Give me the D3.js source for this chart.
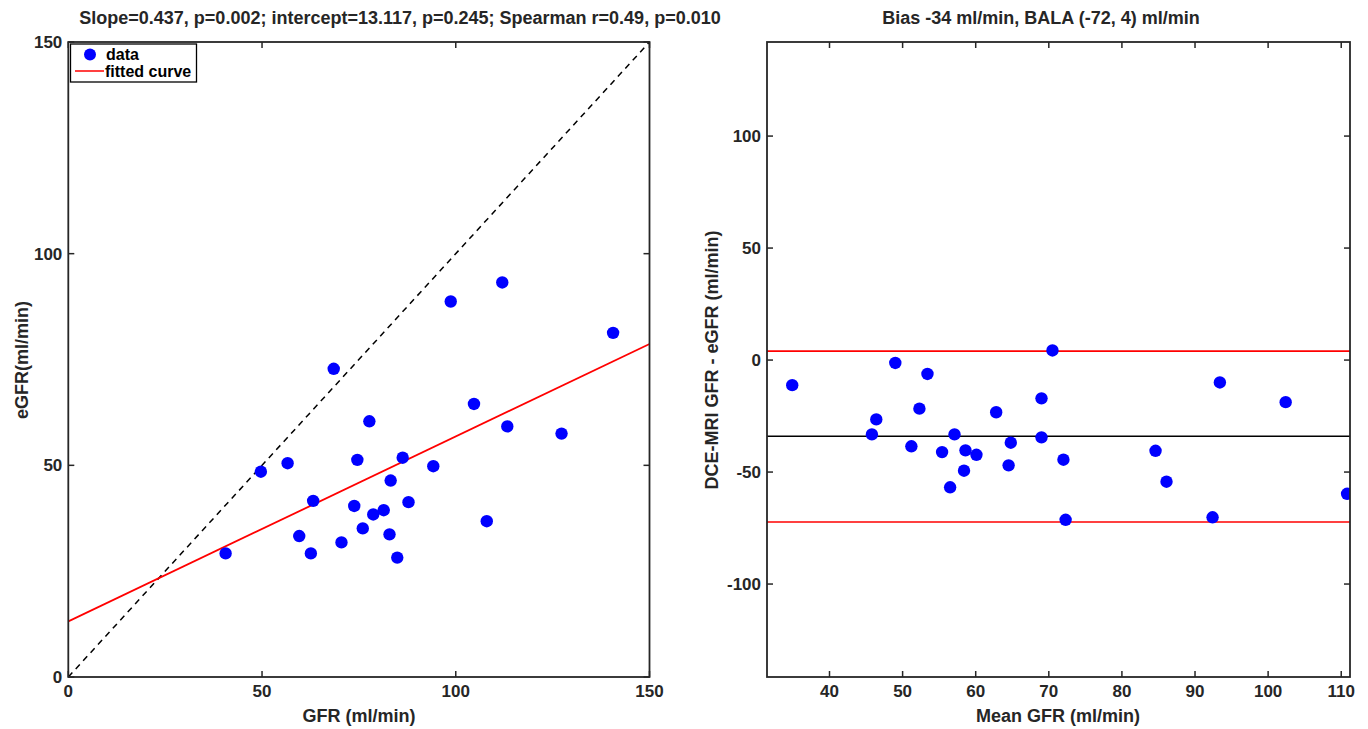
<!DOCTYPE html>
<html><head><meta charset="utf-8">
<script src="https://cdn.jsdelivr.net/npm/d3@7"></script>
<style>
body{margin:0;background:#fff;}
text{font-family:"Liberation Sans",Arial,Helvetica,sans-serif;font-weight:bold;fill:#262626;}
</style></head>
<body><svg id="c" width="1368" height="729"></svg>
<script>
// Left: GFR vs eGFR
const gfr  = [40.6,49.7,56.6,63.2,59.6,62.6,68.5,70.5,73.8,74.6,76.0,77.7,78.7,81.4,83.2,82.9,84.9,86.3,87.8,94.2,98.7,104.7,108.0,112.0,113.3,127.3,140.6];
const egfr = [29.2,48.5,50.5,41.6,33.3,29.2,72.8,31.8,40.4,51.3,35.1,60.4,38.4,39.4,46.4,33.7,28.2,51.8,41.3,49.8,88.7,64.5,36.8,93.2,59.2,57.5,81.3];
const fitSlope = 0.437, fitIntercept = 13.117;
const leftTicks = [0,50,100,150];
const leftTitle = "Slope=0.437, p=0.002; intercept=13.117, p=0.245; Spearman r=0.49, p=0.010";
// Right: Bland-Altman
const meanGfr = [34.9,45.8,46.4,49.0,51.2,52.3,53.4,55.4,56.5,57.1,58.4,58.6,60.1,62.8,64.5,64.8,69.0,69.0,70.5,72.0,72.3,84.6,86.1,92.4,93.4,102.4,110.8];
const diffGfr = [-11.2,-33.2,-26.5,-1.3,-38.5,-21.7,-6.2,-41.1,-56.8,-33.2,-49.4,-40.3,-42.3,-23.3,-47.0,-36.9,-17.1,-34.5,4.3,-44.5,-71.3,-40.5,-54.3,-70.2,-10.0,-18.8,-59.7];
const bias = -34, loaLow = -72.3, loaHigh = 4;
const rightXTicks = [40,50,60,70,80,90,100,110];
const rightYTicks = [-100,-50,0,50,100];
const rightTitle = "Bias -34 ml/min, BALA (-72, 4) ml/min";

const svg = d3.select("#c");
const axisCol = "#262626";
const FS = 18, TFS = 17;

function box(g, x, y, xt, yt) {
  const [x0,x1] = x.range(), [y0,y1] = y.range();
  const tl = 6;
  const ax = g.append("g");
  ax.selectAll(".xb").data(xt).join("line").attr("x1",d=>x(d)).attr("x2",d=>x(d)).attr("y1",y0).attr("y2",y0-tl);
  ax.selectAll(".xt").data(xt).join("line").attr("x1",d=>x(d)).attr("x2",d=>x(d)).attr("y1",y1).attr("y2",y1+tl);
  ax.selectAll(".yl").data(yt).join("line").attr("y1",d=>y(d)).attr("y2",d=>y(d)).attr("x1",x0).attr("x2",x0+tl);
  ax.selectAll(".yr").data(yt).join("line").attr("y1",d=>y(d)).attr("y2",d=>y(d)).attr("x1",x1).attr("x2",x1-tl);
  ax.selectAll("line").attr("stroke",axisCol).attr("stroke-width",1.5);
  ax.append("rect").attr("x",x0).attr("y",y1).attr("width",x1-x0).attr("height",y0-y1)
    .attr("fill","none").attr("stroke",axisCol).attr("stroke-width",1.8);
  g.selectAll(".xl").data(xt).join("text").attr("x",d=>x(d)).attr("y",y0+20).attr("text-anchor","middle")
    .attr("font-size",TFS).text(d=>d);
  g.selectAll(".ylab").data(yt).join("text").attr("x",x0-6).attr("y",d=>y(d)+6).attr("text-anchor","end")
    .attr("font-size",TFS).text(d=>d);
}

// LEFT PANEL
{
  const x = d3.scaleLinear().domain([0,150]).range([68.3,649.5]);
  const y = d3.scaleLinear().domain([0,150]).range([677,42]);
  const g = svg.append("g");
  g.append("clipPath").attr("id","cl").append("rect")
    .attr("x",68.3).attr("y",42).attr("width",649.5-68.3).attr("height",635);
  const p = g.append("g").attr("clip-path","url(#cl)");
  p.append("line").attr("x1",x(0)).attr("y1",y(0)).attr("x2",x(150)).attr("y2",y(150))
    .attr("stroke","#000").attr("stroke-width",1.5).attr("stroke-dasharray","6,5");
  p.append("line").attr("x1",x(0)).attr("y1",y(fitIntercept)).attr("x2",x(150)).attr("y2",y(fitIntercept+fitSlope*150))
    .attr("stroke","#ff0000").attr("stroke-width",1.8);
  p.selectAll("circle").data(gfr).join("circle").attr("cx",d=>x(d)).attr("cy",(d,i)=>y(egfr[i]))
    .attr("r",6.2).attr("fill","#0000ff");
  box(g,x,y,leftTicks,leftTicks);
  g.append("text").attr("x",400).attr("y",24).attr("text-anchor","middle").attr("font-size",FS).text(leftTitle);
  g.append("text").attr("x",(68.3+649.5)/2).attr("y",722).attr("text-anchor","middle").attr("font-size",FS).text("GFR (ml/min)");
  g.append("text").attr("transform","translate(28,360) rotate(-90)").attr("text-anchor","middle").attr("font-size",FS).text("eGFR(ml/min)");
  // legend
  const lg = g.append("g");
  lg.append("rect").attr("x",70.5).attr("y",44).attr("width",126).attr("height",38).attr("fill","#fff").attr("stroke","#000").attr("stroke-width",1.3);
  lg.append("circle").attr("cx",90).attr("cy",54.5).attr("r",6).attr("fill","#0000ff");
  lg.append("text").attr("x",106).attr("y",60).attr("font-size",16).style("fill","#000").text("data");
  lg.append("line").attr("x1",75).attr("x2",104).attr("y1",71).attr("y2",71).attr("stroke","#ff0000").attr("stroke-width",1.5);
  lg.append("text").attr("x",105).attr("y",77).attr("font-size",16).style("fill","#000").text("fitted curve");
}

// RIGHT PANEL
{
  const x = d3.scaleLinear().domain([31.45,111.2]).range([767,1350]);
  const y = d3.scaleLinear().domain([-141.5,142]).range([677,42]);
  const g = svg.append("g");
  g.append("clipPath").attr("id","cr").append("rect").attr("x",767).attr("y",42).attr("width",583).attr("height",635);
  const p = g.append("g").attr("clip-path","url(#cr)");
  [[loaHigh,"#ff0000"],[bias,"#000"],[loaLow,"#ff0000"]].forEach(([v,c])=>{
    p.append("line").attr("x1",767).attr("x2",1350).attr("y1",y(v)).attr("y2",y(v)).attr("stroke",c).attr("stroke-width",1.6);
  });
  p.selectAll("circle").data(meanGfr).join("circle").attr("cx",d=>x(d)).attr("cy",(d,i)=>y(diffGfr[i]))
    .attr("r",6.2).attr("fill","#0000ff");
  box(g,x,y,rightXTicks,rightYTicks);
  g.append("text").attr("x",1041).attr("y",24).attr("text-anchor","middle").attr("font-size",FS).text(rightTitle);
  g.append("text").attr("x",1058).attr("y",722).attr("text-anchor","middle").attr("font-size",FS).text("Mean GFR (ml/min)");
  g.append("text").attr("transform","translate(718,360) rotate(-90)").attr("text-anchor","middle").attr("font-size",FS).text("DCE-MRI GFR - eGFR (ml/min)");
}
</script></body></html>
